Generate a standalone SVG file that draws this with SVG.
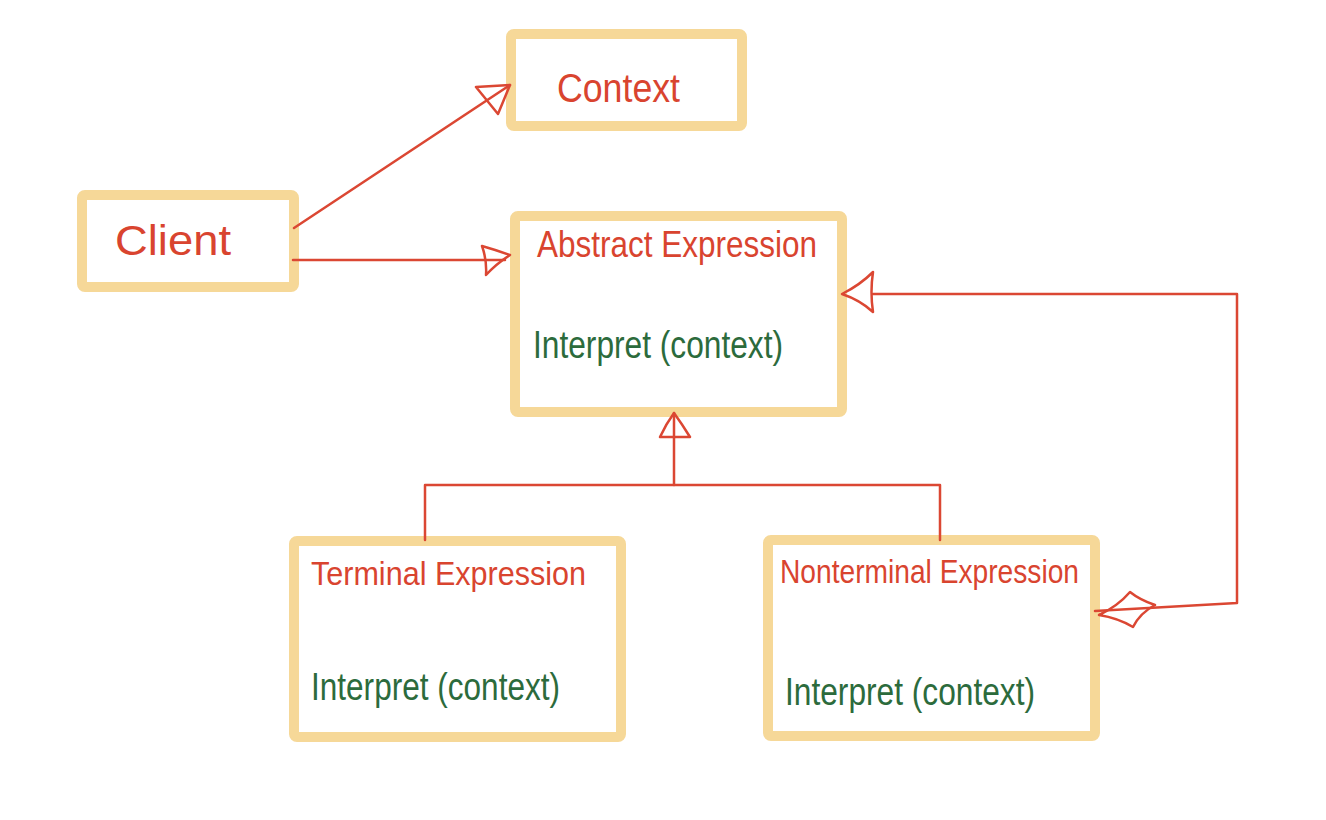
<svg xmlns="http://www.w3.org/2000/svg" width="1326" height="820" viewBox="0 0 1326 820">
<style>
.box{fill:#fff;stroke:#F6D898;stroke-width:10;}
.t{font-family:"Liberation Sans","DejaVu Sans",sans-serif;fill:#D9442F;}
.g{font-family:"Liberation Sans","DejaVu Sans",sans-serif;fill:#2C6B3C;}
.c{fill:none;stroke:#DB4733;stroke-width:2.5;stroke-linecap:round;stroke-linejoin:round;}
</style>
<rect width="1326" height="820" fill="#fff"/>
<g id="context">
<rect class="box" x="511" y="34" width="231" height="92" rx="3"/>
<text class="t" x="557" y="102" font-size="40" textLength="123" lengthAdjust="spacingAndGlyphs">Context</text>
</g>
<g id="client">
<rect class="box" x="82" y="195" width="212" height="92" rx="3"/>
<text class="t" x="115" y="255" font-size="42" textLength="116" lengthAdjust="spacingAndGlyphs">Client</text>
</g>
<g id="abstract">
<rect class="box" x="515" y="216" width="327" height="196" rx="3"/>
<text class="t" x="537" y="257" font-size="36" textLength="280" lengthAdjust="spacingAndGlyphs">Abstract Expression</text>
<text class="g" x="533" y="358" font-size="38" textLength="250" lengthAdjust="spacingAndGlyphs">Interpret (context)</text>
</g>
<g id="terminal">
<rect class="box" x="294" y="541" width="327" height="196" rx="3"/>
<text class="t" x="311" y="585" font-size="34" textLength="275" lengthAdjust="spacingAndGlyphs">Terminal Expression</text>
<text class="g" x="311" y="700" font-size="38" textLength="249" lengthAdjust="spacingAndGlyphs">Interpret (context)</text>
</g>
<g id="nonterminal">
<rect class="box" x="768" y="540" width="327" height="196" rx="3"/>
<text class="t" x="780" y="583" font-size="34" textLength="299" lengthAdjust="spacingAndGlyphs">Nonterminal Expression</text>
<text class="g" x="785" y="705" font-size="38" textLength="250" lengthAdjust="spacingAndGlyphs">Interpret (context)</text>
</g>
<g id="connectors">
<path class="c" d="M294 228 L510 85"/>
<path class="c" d="M476 87 L510 85 L498 114 Z" />
<path class="c" d="M293 260 L505 260"/>
<path class="c" d="M482 246 Q496 250 510 255 Q496 264 486 275 Q487 260 482 246 Z"/>
<path class="c" d="M425 540 L425 485 L940 485 L940 540"/>
<path class="c" d="M674 485 L674 413"/>
<path class="c" d="M674 413 Q666 424 660 437 L690 437 Q682 424 674 413 Z"/>
<path class="c" d="M1095 611 L1237 603 L1237 294 L873 294"/>
<path class="c" d="M842 294 Q860 285 873 272 Q870 292 873 312 Q860 300 842 294 Z"/>
<path class="c" d="M1099 615 Q1118 606 1130 592 Q1140 600 1155 605 Q1140 613 1133 627 Q1118 618 1099 615 Z"/>
</g>
</svg>
